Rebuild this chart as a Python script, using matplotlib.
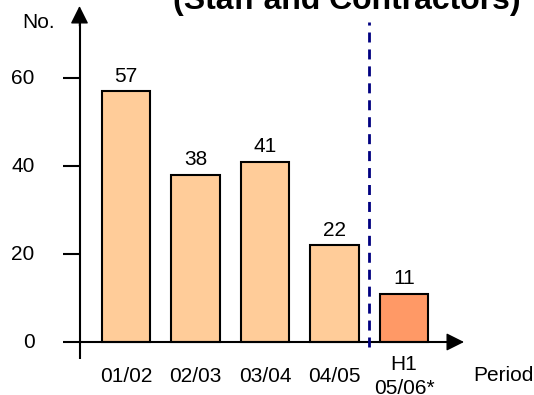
import matplotlib
matplotlib.use("Agg")
import matplotlib.pyplot as plt

plt.rcParams['font.family'] = ['Liberation Sans', 'DejaVu Sans']

categories = ["01/02", "02/03", "03/04", "04/05", "H1\n05/06*"]
values = [57, 38, 41, 22, 11]
bar_colors = ["#FFCC99", "#FFCC99", "#FFCC99", "#FFCC99", "#FF9966"]
y_ticks = [0, 20, 40, 60]
title = "(Staff and Contractors)"

W, H = 534, 395
fig = plt.figure(figsize=(W / 100, H / 100), dpi=100)
ax = fig.add_axes([0, 0, 1, 1])

# data <-> pixel layout: category spacing 69.5 px, 4.395 px per unit
x_px0, dx = 126.0, 69.5
y_px0, dy = 342.0, 4.395


def px_x(p):
    return (p - x_px0) / dx


def px_y(p):
    return (y_px0 - p) / dy


ax.set_xlim(px_x(0), px_x(W))
ax.set_ylim(px_y(H), px_y(0))
ax.axis("off")

xs = list(range(len(categories)))
ax.bar(xs, values, width=0.70, color=bar_colors, edgecolor="black",
       linewidth=1.5, zorder=2)

for x, v in zip(xs, values):
    ax.annotate(str(v), (x, v), xytext=(0, 4), textcoords="offset points",
                ha="center", va="bottom", fontsize=15)

# axes with arrow heads
y_axis_x = px_x(79.5)
x_left = px_x(63)
x_tip = px_x(464)
y_tip = px_y(6)
y_bottom = px_y(359)
head = "-|>,head_length=1.1,head_width=0.55"

ax.plot([x_left, px_x(452)], [0, 0], color="black", lw=1.5, zorder=3,
        solid_capstyle="butt")
ax.plot([y_axis_x, y_axis_x], [y_bottom, px_y(18)], color="black", lw=1.5,
        zorder=3, solid_capstyle="butt")
ax.annotate("", xy=(x_tip, 0), xytext=(px_x(445), 0),
            arrowprops=dict(arrowstyle=head, color="black", lw=1.0,
                            shrinkA=0, shrinkB=0),
            zorder=4)
ax.annotate("", xy=(y_axis_x, y_tip), xytext=(y_axis_x, px_y(26)),
            arrowprops=dict(arrowstyle=head, color="black", lw=1.0,
                            shrinkA=0, shrinkB=0),
            zorder=4)

# y ticks and labels
for t in y_ticks:
    if t > 0:
        ax.plot([px_x(63), y_axis_x], [t, t], color="black", lw=1.5,
                zorder=3, solid_capstyle="butt")
    ax.text(px_x(34.5), t, str(t), ha="right", va="center", fontsize=15)

ax.text(px_x(38.5), px_y(22.5), "No.", ha="center", va="center",
        fontsize=15)

# category labels
label_y = px_y(376.5)
for x, c in zip(xs, categories):
    ax.text(x, label_y, c, ha="center", va="center", fontsize=15,
            linespacing=1.36)
ax.text(px_x(473), px_y(375.5), "Period", ha="left", va="center",
        fontsize=15)

# separator between full years and the half-year figure
ax.plot([px_x(369), px_x(369)], [px_y(346.5), px_y(22)],
        color="#000080", lw=2, dashes=(3.6, 2.5), zorder=3)

ax.text(px_x(347), px_y(9), title, ha="center", va="baseline",
        fontsize=23, fontweight="bold")

fig.savefig("out.png", dpi=100)
